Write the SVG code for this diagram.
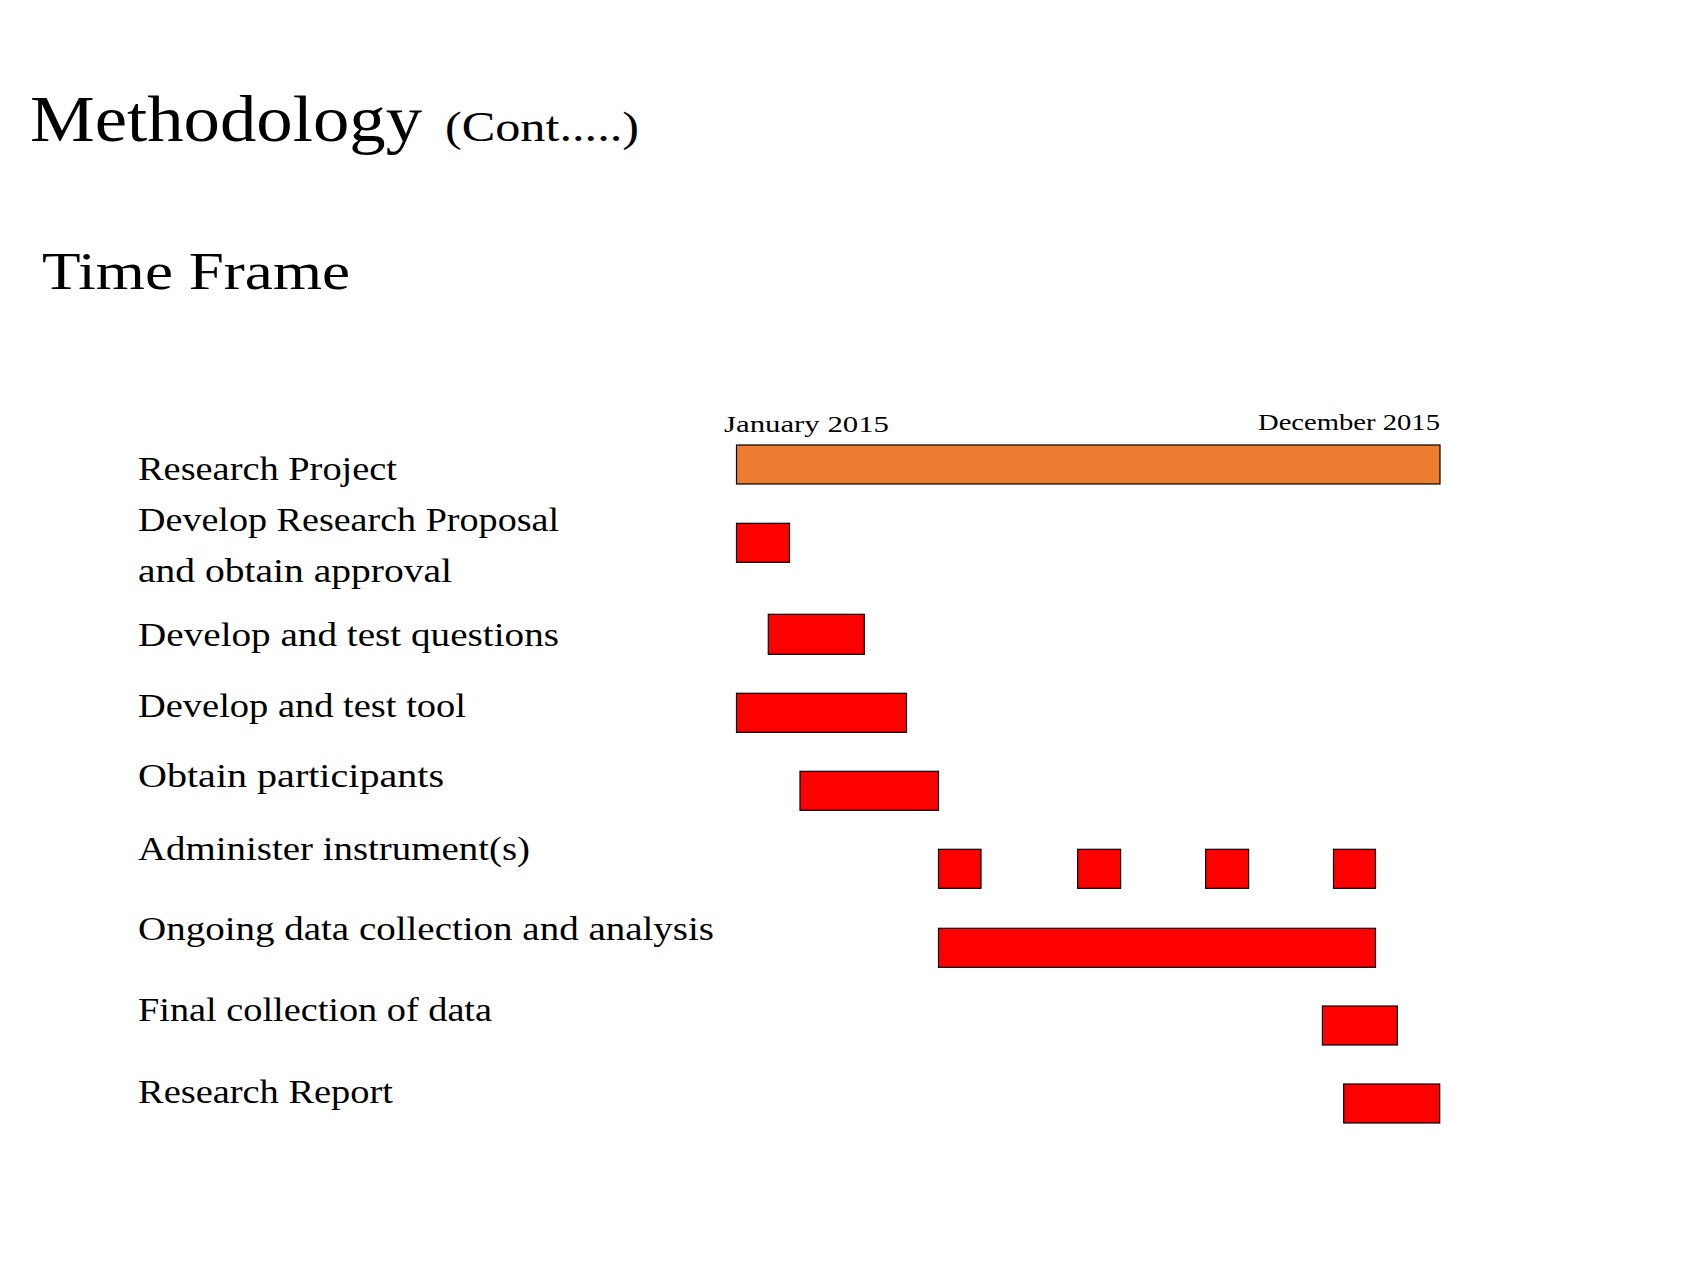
<svg xmlns="http://www.w3.org/2000/svg" width="1706" height="1280" viewBox="0 0 1706 1280">
<style>
text{font-family:"Liberation Serif","Times New Roman",serif;fill:#000}
.lbl{font-size:33px}
.date{font-size:23px}
.bar{fill:#FF0000;stroke:#000;stroke-width:1.2}
.proj{fill:#ED7D31;stroke:#000;stroke-width:1.2}
</style>
<rect width="1706" height="1280" fill="#fff"/>
<g id="title">
<text x="30" y="141" font-size="65" textLength="392" lengthAdjust="spacingAndGlyphs">Methodology</text>
<text x="445" y="141" font-size="42" textLength="194" lengthAdjust="spacingAndGlyphs">(Cont.....)</text>
</g>
<g id="subtitle">
<text x="42" y="288.5" font-size="53" textLength="308" lengthAdjust="spacingAndGlyphs">Time Frame</text>
</g>
<g id="axis">
<text class="date" x="724" y="432" textLength="165" lengthAdjust="spacingAndGlyphs">January 2015</text>
<text class="date" x="1258" y="429.5" textLength="182" lengthAdjust="spacingAndGlyphs">December 2015</text>
</g>
<g id="research-project">
<text class="lbl" x="138" y="480" textLength="259" lengthAdjust="spacingAndGlyphs">Research Project</text>
<rect class="proj" x="736.5" y="445" width="703.5" height="39"/>
</g>
<g id="proposal">
<text class="lbl" x="138" y="531" textLength="421" lengthAdjust="spacingAndGlyphs">Develop Research Proposal</text>
<text class="lbl" x="138" y="581.5" textLength="314" lengthAdjust="spacingAndGlyphs">and obtain approval</text>
<rect class="bar" x="736.5" y="523.3" width="53" height="39"/>
</g>
<g id="questions">
<text class="lbl" x="138" y="646" textLength="421" lengthAdjust="spacingAndGlyphs">Develop and test questions</text>
<rect class="bar" x="768.3" y="614.3" width="96" height="40"/>
</g>
<g id="tool">
<text class="lbl" x="138" y="716.5" textLength="328" lengthAdjust="spacingAndGlyphs">Develop and test tool</text>
<rect class="bar" x="736.5" y="693.3" width="170" height="39"/>
</g>
<g id="participants">
<text class="lbl" x="138" y="786.5" textLength="306" lengthAdjust="spacingAndGlyphs">Obtain participants</text>
<rect class="bar" x="800" y="771.3" width="138.5" height="39"/>
</g>
<g id="administer">
<text class="lbl" x="138" y="859.5" textLength="392" lengthAdjust="spacingAndGlyphs">Administer instrument(s)</text>
<rect class="bar" x="938.5" y="849.3" width="42.5" height="39"/>
<rect class="bar" x="1077.6" y="849.3" width="43" height="39"/>
<rect class="bar" x="1205.6" y="849.3" width="43" height="39"/>
<rect class="bar" x="1333.5" y="849.3" width="42" height="39"/>
</g>
<g id="ongoing">
<text class="lbl" x="138" y="940" textLength="576" lengthAdjust="spacingAndGlyphs">Ongoing data collection and analysis</text>
<rect class="bar" x="938.5" y="928.3" width="437" height="39"/>
</g>
<g id="final">
<text class="lbl" x="138" y="1021" textLength="354" lengthAdjust="spacingAndGlyphs">Final collection of data</text>
<rect class="bar" x="1322.4" y="1006" width="75" height="39"/>
</g>
<g id="report">
<text class="lbl" x="138" y="1102.5" textLength="255" lengthAdjust="spacingAndGlyphs">Research Report</text>
<rect class="bar" x="1343.7" y="1084" width="96" height="39"/>
</g>
</svg>
